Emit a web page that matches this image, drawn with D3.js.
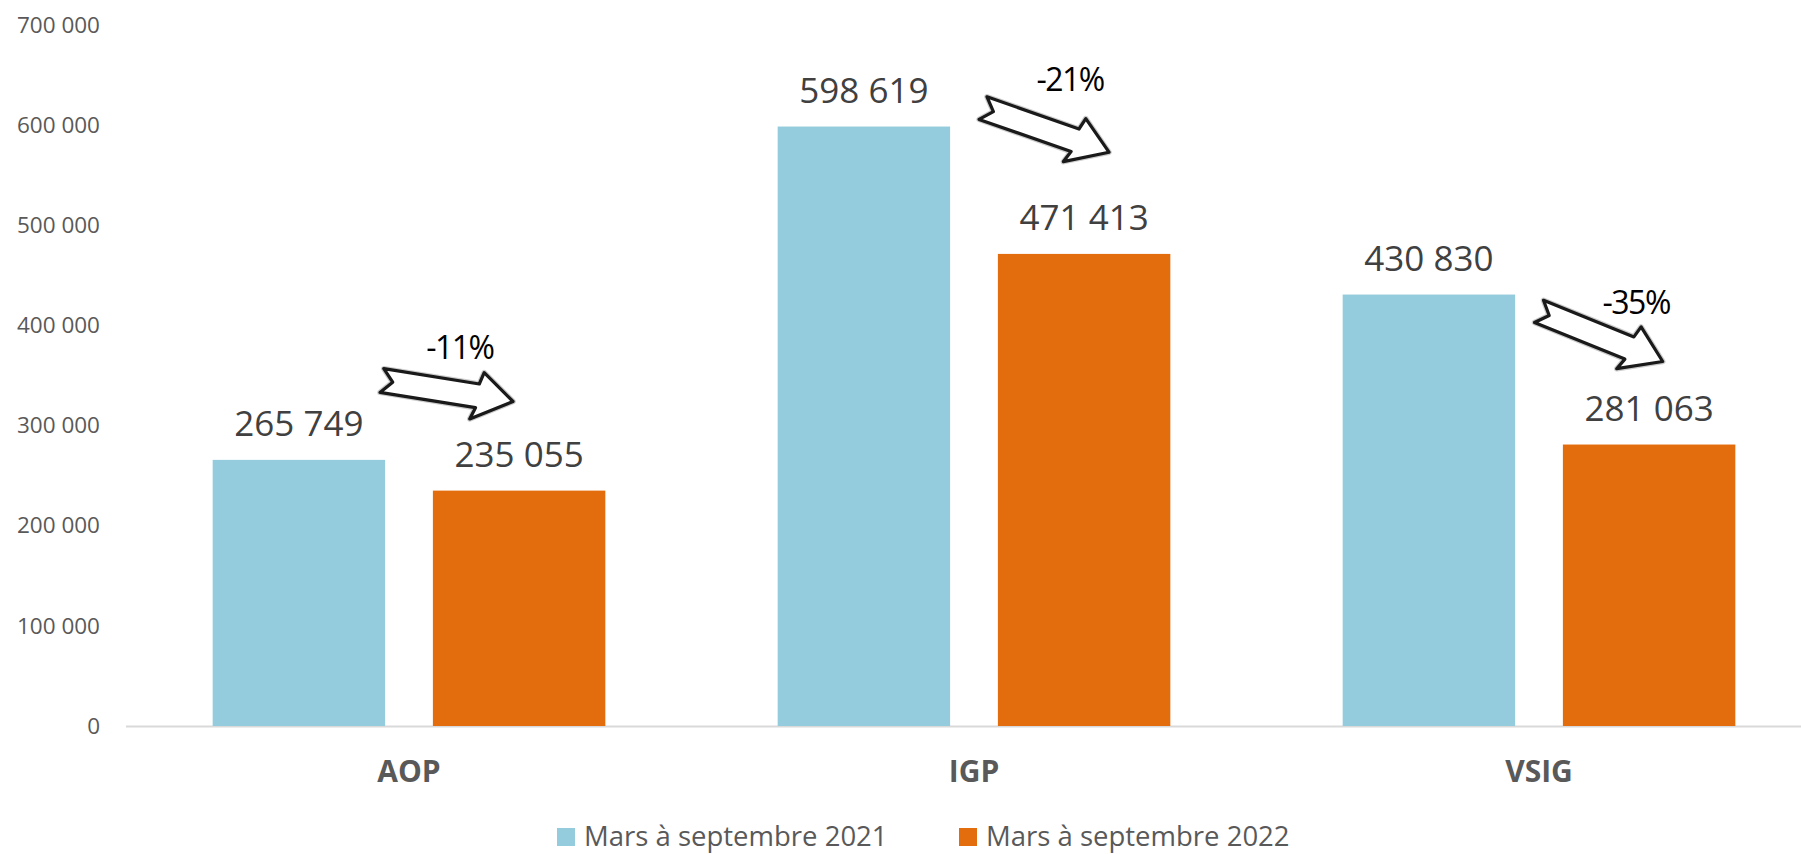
<!DOCTYPE html>
<html><head><meta charset="utf-8">
<script src="https://cdn.jsdelivr.net/npm/d3@7"></script>
<style>html,body{margin:0;padding:0;background:#fff;} svg{display:block;}</style>
</head><body>
<svg id="chart" width="1801" height="854"></svg>
<script>
const categories = ["AOP", "IGP", "VSIG"];
const seriesNames = ["Mars à septembre 2021", "Mars à septembre 2022"];
const values2021 = [265749, 598619, 430830];
const values2022 = [235055, 471413, 281063];
const yTicks = [0, 100000, 200000, 300000, 400000, 500000, 600000, 700000];
const changeLabels = ["-11%", "-21%", "-35%"];
// arrow annotation anchors: [tail value, tip value] and offsets as fraction of category step
const arrowTailValues = [345000, 617000, 414000];
const arrowTipValues = [324000, 573000, 364000];
const arrowTailOffsets = [-0.048, 0.016, 0.0];
const arrowTipOffsets = [0.184, 0.239, 0.219];
const labelValues = [366000, 634000, 411000];
const labelOffsets = [0.090, 0.170, 0.172];

const colors = ["#95CCDD", "#E36C0C"];
const svg = d3.select("#chart");
const W = 1801, H = 854;

const x = d3.scaleBand().domain(categories).range([126.5, 1821.5]).paddingInner(0.305).paddingOuter(0.1525);
const xs = d3.scaleBand().domain([0, 1]).range([0, x.bandwidth()]).paddingInner(0.217);
const y = d3.scaleLinear().domain([0, 700000]).range([726, 25]);
const fmt = v => d3.format(",")(v).replace(/,/g, " ");

// baseline axis
svg.append("line").attr("x1", 126).attr("x2", W).attr("y1", y(0) + 0.5).attr("y2", y(0) + 0.5)
  .attr("stroke", "#D9D9D9").attr("stroke-width", 2);

// y tick labels
const yAxis = d3.axisLeft(y).tickValues(yTicks).tickFormat(fmt).tickSize(0).tickPadding(0);
const gy = svg.append("g").attr("transform", "translate(100,0)").call(yAxis);
gy.select(".domain").remove();
gy.selectAll("text").attr("font-family", "'Open Sans', sans-serif").attr("font-size", 22.5)
  .attr("fill", "#595959");

// bars
const data = [];
categories.forEach((c, i) => {
  data.push({cat: c, s: 0, v: values2021[i]});
  data.push({cat: c, s: 1, v: values2022[i]});
});
svg.append("g").selectAll("rect").data(data).join("rect")
  .attr("x", d => x(d.cat) + xs(d.s))
  .attr("width", xs.bandwidth())
  .attr("y", d => y(d.v))
  .attr("height", d => y(0) - y(d.v))
  .attr("fill", d => colors[d.s]);

// value labels
svg.append("g").selectAll("text").data(data).join("text")
  .attr("x", d => x(d.cat) + xs(d.s) + xs.bandwidth() / 2)
  .attr("y", d => y(d.v) - 24)
  .attr("text-anchor", "middle")
  .attr("font-family", "'Open Sans', sans-serif").attr("font-size", 35)
  .attr("fill", "#404040")
  .text(d => fmt(d.v));

// category labels
svg.append("g").selectAll("text").data(categories).join("text")
  .attr("x", d => x(d) + x.bandwidth() / 2)
  .attr("y", 782)
  .attr("text-anchor", "middle")
  .attr("font-family", "'Open Sans', sans-serif").attr("font-weight", "bold").attr("font-size", 30)
  .attr("fill", "#595959")
  .text(d => d);

// arrows
const step = x.step();
function arrowPath(tx, ty, px, py) {
  const L = Math.hypot(px - tx, py - ty);
  const a = Math.atan2(py - ty, px - tx);
  const sw = 12, hw = 24, hl = 36, notch = 11;
  const pts = [[0, -sw], [L - hl, -sw], [L - hl + 3, -hw], [L, 0], [L - hl - 4, hw], [L - hl, sw], [0, sw], [notch, 0]];
  const c = Math.cos(a), s = Math.sin(a);
  const tp = pts.map(([u, v]) => [tx + u * c - v * s, ty + u * s + v * c]);
  return "M" + tp.map(p => p[0].toFixed(1) + "," + p[1].toFixed(1)).join("L") + "Z";
}
categories.forEach((c, i) => {
  const cx = x(c) + x.bandwidth() / 2;
  const tx = cx + arrowTailOffsets[i] * step, ty = y(arrowTailValues[i]);
  const px = cx + arrowTipOffsets[i] * step, py = y(arrowTipValues[i]);
  const d = arrowPath(tx, ty, px, py);
  svg.append("path").attr("d", d).attr("fill", "#fff").attr("stroke", "#999").attr("stroke-width", 5.5)
    .attr("stroke-linejoin", "round").attr("opacity", 0.5);
  svg.append("path").attr("d", d).attr("fill", "#fff").attr("stroke", "#1a1a1a").attr("stroke-width", 3.2)
    .attr("stroke-linejoin", "round");
  svg.append("text")
    .attr("x", cx + labelOffsets[i] * step)
    .attr("y", y(labelValues[i]))
    .attr("text-anchor", "middle")
    .attr("font-family", "'Open Sans', sans-serif").attr("font-size", 32)
    .attr("letter-spacing", -1.5)
    .attr("fill", "#000")
    .text(changeLabels[i]);
});

// legend
const legendX = [557, 959];
const lg = svg.append("g");
seriesNames.forEach((n, i) => {
  lg.append("rect").attr("x", legendX[i]).attr("y", 828).attr("width", 18).attr("height", 18).attr("fill", colors[i]);
  lg.append("text").attr("x", legendX[i] + 27).attr("y", 846)
    .attr("font-family", "'Open Sans', sans-serif").attr("font-size", 27.5)
    .attr("fill", "#595959").text(n);
});
</script>
</body></html>
